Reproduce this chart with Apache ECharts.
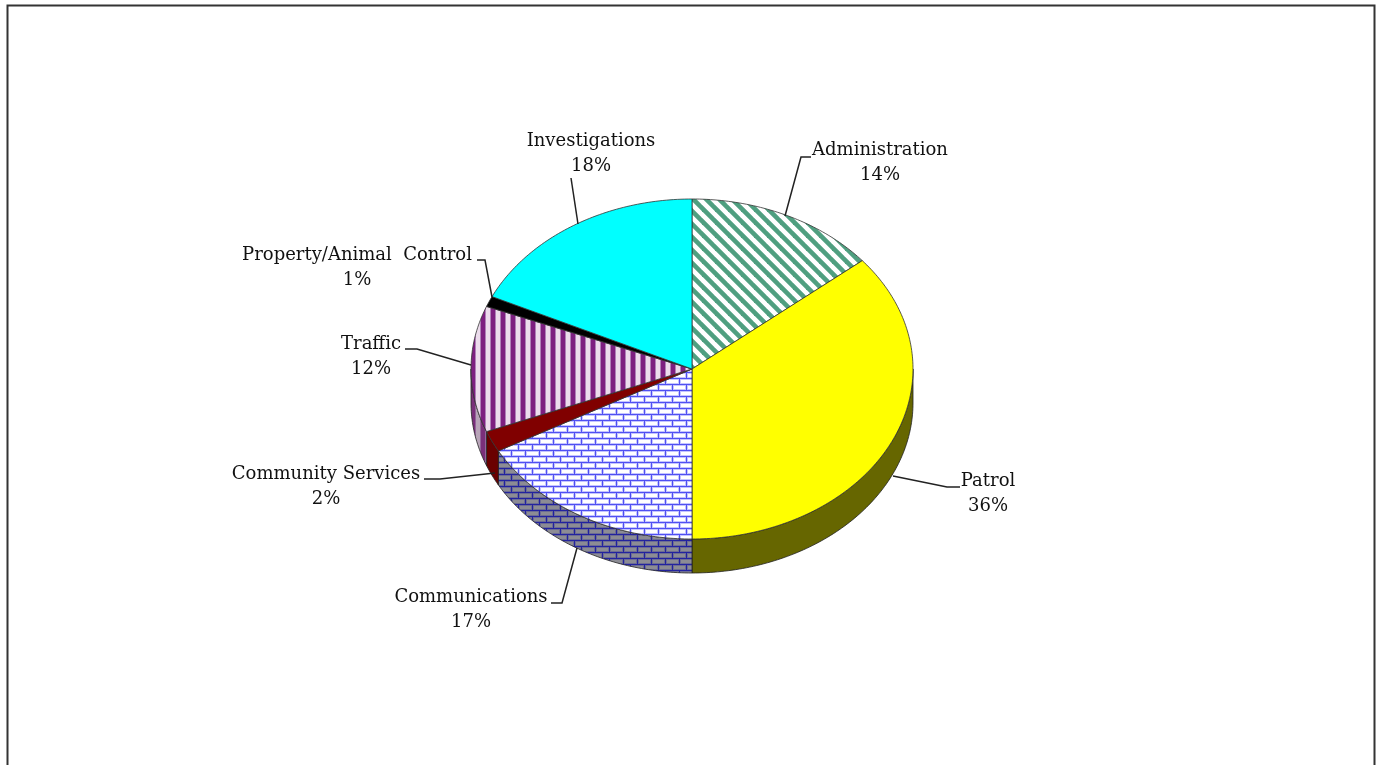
<!DOCTYPE html>
<html>
<head>
<meta charset="utf-8">
<style>html,body{margin:0;padding:0;background:#fff}#chart{width:1381px;height:765px}</style>
<script src="https://cdn.jsdelivr.net/npm/echarts@6/dist/echarts.min.js"></script>
</head>
<body>
<div id="chart"></div>
<script>
// Department share of the budget, percent
var categories = ['Administration', 'Patrol', 'Communications', 'Community Services', 'Traffic', 'Property/Animal  Control', 'Investigations'];
var shares = [14, 36, 17, 2, 12, 1, 18];

// Pie geometry: centre, radii of the tilted disc and thickness of its wall
var CX = 692, CY = 369, RX = 221, RY = 170, DEPTH = 34;

function tile(w, h, paint) {
  var c = document.createElement('canvas');
  c.width = w; c.height = h;
  paint(c.getContext('2d'), w, h);
  return {image: c, repeat: 'repeat'};
}
function diagonal(line, bg) {
  return tile(13, 13, function (g, w, h) {
    g.fillStyle = bg; g.fillRect(0, 0, w, h);
    g.strokeStyle = line; g.lineWidth = 4.6;
    // lines run past the tile corners so the stripes join up when repeated
    [-13, 0, 13].forEach(function (o) {
      g.beginPath(); g.moveTo(o - 13, -13); g.lineTo(o + 26, 26); g.stroke();
    });
  });
}
function vertical(line, edge, bg) {
  return tile(10, 10, function (g, w, h) {
    g.fillStyle = bg; g.fillRect(0, 0, w, h);
    g.fillStyle = line; g.fillRect(1, 0, 4, h);
    g.fillStyle = edge; g.fillRect(0, 0, 1, h); g.fillRect(5, 0, 1, h);
  });
}
function brick(line, soft, bg) {
  var w = 14, h = 12, t = 2;
  return tile(w, h, function (g) {
    g.fillStyle = line; g.fillRect(0, 0, w, h);
    function cell(x, y) {
      g.fillStyle = soft; g.fillRect(x + t - 1, y + t - 1, w - t + 1, h / 2 - t + 1);
      g.fillStyle = bg; g.fillRect(x + t, y + t, w - t - 1, h / 2 - t - 1);
    }
    cell(0, 0);
    cell(-w / 2, h / 2);
    cell(w / 2, h / 2);
  });
}

// Top and wall fill per department
var topFills = [
  diagonal('#4f9f80', '#ffffff'), '#ffff00', brick('#5050f2', '#c4c4ff', '#ffffff'),
  '#800000', vertical('#7d1f80', '#b080b8', '#ecdcec'), '#000000', '#00ffff'
];
var wallFills = [
  diagonal('#2f5f4c', '#808080'), '#666600', brick('#23239f', '#6c6c94', '#8c8c94'),
  '#6a0000', vertical('#7a2f7a', '#94649a', '#b8a4b8'), '#000000', '#008080'
];

// Leader lines and text anchors around the disc
var labelLayout = {
  'Administration': {elbow: [[801, 157], [811, 157]], rim: [785, 216], text: [880, 163]},
  'Patrol': {elbow: [[947, 487], [960, 487]], rim: [893, 476], text: [988, 494]},
  'Communications': {elbow: [[562, 603], [551, 603]], rim: [577, 548], text: [471, 610]},
  'Community Services': {elbow: [[440, 479], [424, 479]], rim: [495, 473], text: [326, 487]},
  'Traffic': {elbow: [[417, 349], [405, 349]], rim: [471, 365], text: [371, 357]},
  'Property/Animal  Control': {elbow: [[485, 260], [477, 260]], rim: [492, 297], text: [357, 268]},
  'Investigations': {elbow: [[571, 178]], rim: [578, 224], text: [591, 154]}
};

var total = shares.reduce(function (a, b) { return a + b; }, 0);
var starts = [];
shares.reduce(function (acc, v, i) { starts[i] = acc; return acc + v; }, 0);

function px(a) { return CX + RX * Math.sin(a); }
function py(a) { return CY - RY * Math.cos(a); }

// Points along the rim between two angles, measured clockwise from twelve o'clock
function rimPoints(a0, a1, dy) {
  var pts = [], n = Math.max(2, Math.ceil(Math.abs(a1 - a0) * 60));
  for (var i = 0; i <= n; i++) {
    var a = a0 + (a1 - a0) * i / n;
    pts.push([px(a), py(a) + dy]);
  }
  return pts;
}

function renderSlice(params, api) {
  var i = params.dataIndex;
  var value = api.value(1);
  var a0 = starts[i] / total * Math.PI * 2;
  var a1 = a0 + value / total * Math.PI * 2;
  var children = [];
  // wall: only the part of the rim that faces the viewer
  var w0 = Math.max(a0, Math.PI / 2), w1 = Math.min(a1, Math.PI * 3 / 2);
  if (w1 > w0) {
    var wall = rimPoints(w0, w1, 0).concat(rimPoints(w1, w0, DEPTH));
    children.push({
      type: 'polygon', z2: 1,
      shape: {points: wall},
      style: {fill: wallFills[i], stroke: '#222222', lineWidth: 0.8}
    });
  }
  var top = [[CX, CY]].concat(rimPoints(a0, a1, 0));
  children.push({
    type: 'polygon', z2: 2,
    shape: {points: top},
    style: {fill: topFills[i], stroke: '#333333', lineWidth: 0.8, lineJoin: 'round'}
  });
  var lay = labelLayout[categories[i]];
  children.push({
    type: 'polyline', z2: 3,
    shape: {points: [lay.rim].concat(lay.elbow)},
    style: {fill: 'none', stroke: '#222222', lineWidth: 1.5}
  });
  children.push({
    type: 'text', z2: 4,
    x: lay.text[0], y: lay.text[1],
    style: {
      text: categories[i] + '\n' + Math.round(value / total * 100) + '%',
      x: 0, y: 0,
      fill: '#111111',
      font: '18px "DejaVu Serif"',
      lineHeight: 25,
      align: 'center',
      verticalAlign: 'middle'
    }
  });
  return {type: 'group', children: children};
}

var chart = echarts.init(document.getElementById('chart'));
chart.setOption({
  animation: false,
  backgroundColor: '#ffffff',
  graphic: [{
    type: 'polyline',
    shape: {points: [[7.5, 765], [7.5, 5.5], [1374.5, 5.5], [1374.5, 765]]},
    style: {fill: 'none', stroke: '#333333', lineWidth: 2}
  }],
  series: [{
    type: 'custom',
    coordinateSystem: 'none',
    renderItem: renderSlice,
    data: categories.map(function (c, i) { return [c, shares[i]]; })
  }]
});
</script>
</body>
</html>
